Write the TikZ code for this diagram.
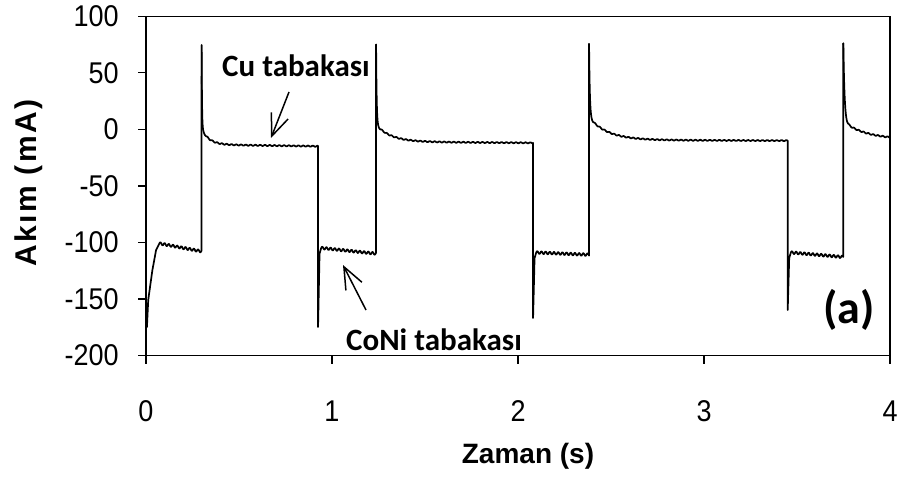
\documentclass[tikz,border=0pt]{standalone}
\usepackage{fontspec}
\setmainfont{Liberation Sans}
\newfontfamily\notefont{Carlito}
\newfontfamily\spacedfont{Liberation Sans}[LetterSpace=8]
\usetikzlibrary{arrows.meta}

\tikzset{
  axis/.style={line width=0.7pt},
  trace/.style={line width=0.85pt, line join=round, line cap=round},
  ticklab/.style={inner sep=0pt, xscale=0.9, transform shape, font=\fontsize{15}{17}\selectfont},
  axtitle/.style={inner sep=0pt, font=\fontsize{14}{16}\selectfont\bfseries},
  ytitle/.style={inner sep=0pt, rotate=90, font=\fontsize{15}{17}\selectfont\spacedfont\bfseries},
  note/.style={inner sep=0pt, anchor=base, font=\fontsize{15.5}{18}\selectfont\notefont\bfseries},
  pointer/.style={line width=0.75pt, -{Straight Barb[length=11pt,width=9pt]}}
}

\begin{document}
\begin{tikzpicture}[x=0.5pt, y=-0.5pt]
  \useasboundingbox (0,0) rectangle (908,481);

  \begin{scope}[shift={(146,129.3)}, x=93pt, y=0.565pt]
    % frame and ticks
    \draw[axis] (0,-200) rectangle (4,100);
    \foreach \y [count=\i] in {-200,-150,...,100}{
      \draw[axis] (0,\y) -- ++(-4pt,0);
      \node[ticklab, anchor=east] (ylab\i) at ([xshift=-13.5pt]0,\y) {\y};
    }
    \foreach \x in {0,...,4}{
      \draw[axis] (\x,-200) -- ++(0,-4.5pt);
      \node[ticklab] (xlab\x) at ([yshift=-28pt]\x,-200) {\x};
    }

    % first CoNi layer
    \draw[trace] (0.005,-175) -- (0.012,-151) -- (0.034,-125) -- (0.054,-107) -- (0.072,-101)
      -- plot[domain=0.072:0.299, samples=70] (\x,{-101-7*(\x-0.072)/0.227+1.2*sin((\x-0.072)*16000)})
      -- (0.299,74.5);

    % CoNi layers
    \foreach \ts/\ytop/\dip/\ya/\te/\yb/\peak in {0.925/-15/-175/-105/1.237/-110/75,
        2.081/-12/-167/-109/2.382/-111/75.5, 3.45/-10/-160/-109/3.749/-113/76}{
      \pgfmathsetmacro\tb{\ts+0.017}
      \draw[trace] (\ts,\ytop) -- (\ts,\dip) -- (\ts+0.008,\ya-5) -- (\tb,\ya)
        -- plot[domain=\tb:\te, samples=90] (\x,{\ya+((\yb)-(\ya))*(\x-\tb)/(\te-\tb)+1.2*sin((\x-\tb)*16000)})
        -- (\te,\peak);
    }

    % Cu layers
    \foreach \tc/\dur/\lev/\slope/\ampA/\tauA/\ampB/\tauB in {0.299/0.626/-13.5/-2.4/74/0.002/14/0.04,
        1.237/0.844/-11/-1.2/71/0.003/15/0.08, 2.382/1.068/-9.5/-0.5/65/0.004/20/0.1,
        3.749/0.251/-9/0/69/0.0064/16/0.12}{
      \draw[trace] plot[domain=0:1, samples=300, variable=\q]
        ({\tc+\dur*\q*\q}, {\lev+(\slope)*\dur*\q*\q+\ampA*exp(max(-9,-\dur*\q*\q/\tauA))+\ampB*exp(max(-9,-\dur*\q*\q/\tauB))+0.5*sin(14000*\dur*\q*\q)});
    }
  \end{scope}

  % titles
  \node[ytitle] (ytitle) at (29,183) {Akım (mA)};
  \node[axtitle, anchor=base] (xtitle) at (528,463) {Zaman (s)};

  % notes
  \node[note] (cu) at (296,76) {Cu tabakası};
  \node[note] (coni) at (434,350) {CoNi tabakası};
  \node[note, font=\fontsize{23}{26}\selectfont\notefont\bfseries] (panel) at (849,323) {(a)};

  \coordinate (cutail) at (289,92);
  \coordinate (cutip) at (271,138);
  \coordinate (conitail) at (366,310);
  \coordinate (conitip) at (343,265);
  \draw[pointer] (cutail) -- (cutip);
  \draw[pointer] (conitail) -- (conitip);
\end{tikzpicture}
\end{document}
